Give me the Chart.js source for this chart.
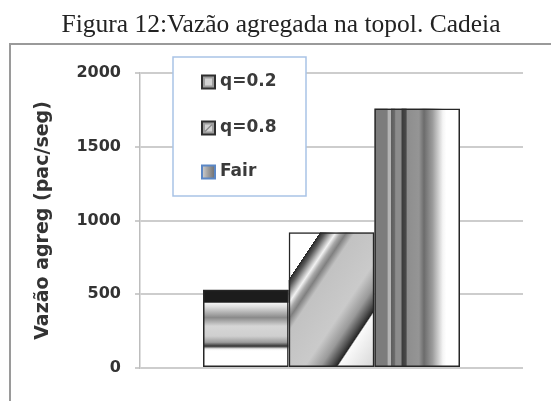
<!DOCTYPE html>
<html>
<head>
<meta charset="utf-8">
<script src="https://cdn.jsdelivr.net/npm/chart.js@4.4.1/dist/chart.umd.min.js"></script>
<style>
  html, body { margin: 0; padding: 0; background: #fff; }
  #wrap { width: 551px; height: 401px; }
</style>
</head>
<body>
<div id="wrap"><canvas id="mainChart" width="551" height="401"></canvas></div>
<script>
// ================= DATA =================
const categories = ['Cadeia'];
const seriesLabels = ['q=0.2', 'q=0.8', 'Fair'];
const q02Values = [530];
const q08Values = [920];
const fairValues = [1760];
const yTicks = [0, 500, 1000, 1500, 2000];

const chartTitle = 'Figura 12:Vazão agregada na topol. Cadeia';
const yTitle = 'Vazão agreg (pac/seg)';

// ================= FILL PATTERNS =================
// q=0.2 -> horizontal bands (top -> bottom)
const BANDS_H = [
    [0, '#1c1c1c'], [0.16, '#1c1c1c'], [0.175, '#f2f2f2'], [0.22, '#dedede'],
    [0.36, '#8a8a8a'], [0.47, '#d6d6d6'], [0.6, '#cfcfcf'], [0.68, '#9c9c9c'],
    [0.73, '#333333'], [0.765, '#eeeeee'], [0.79, '#ffffff'], [1, '#ffffff']
];
// Fair -> vertical bands (left -> right)
const BANDS_V = [
    [0, '#7c7c7c'], [0.15, '#7c7c7c'], [0.16, '#b4b4b4'], [0.19, '#b4b4b4'],
    [0.2, '#5e5e5e'], [0.235, '#6a6a6a'], [0.25, '#8c8c8c'], [0.31, '#8c8c8c'],
    [0.325, '#3c3c3c'], [0.37, '#4a4a4a'], [0.385, '#8e8e8e'], [0.52, '#959595'],
    [0.58, '#6c6c6c'], [0.68, '#9c9c9c'], [0.8, '#f5f5f5'], [0.84, '#ffffff'], [1, '#ffffff']
];
// q=0.8 -> diagonal band (0 = upper-left edge, 1 = lower-right edge)
const BANDS_D = [
    [0, '#262626'], [0.05, '#5a5a5a'], [0.11, '#b8b8b8'], [0.15, '#f2f2f2'],
    [0.2, '#a8a8a8'], [0.25, '#808080'], [0.33, '#c2c2c2'], [0.7, '#cacaca'],
    [0.85, '#9a9a9a'], [0.95, '#505050'], [1, '#262626']
];

function addStops(grad, stops) {
    stops.forEach(([t, c]) => grad.addColorStop(Math.min(1, Math.max(0, t)), c));
    return grad;
}

function barFill(ctx, i, x0, y0, w, h) {
    if (i === 0) return addStops(ctx.createLinearGradient(0, y0, 0, y0 + h), BANDS_H);
    if (i === 2) return addStops(ctx.createLinearGradient(x0, 0, x0 + w, 0), BANDS_V);

    const nx = 0.832, ny = 0.555;
    const ax = x0, ay = y0 + 0.351 * h;
    const sMin = -0.351 * h * ny;
    const sMax = w * nx + 0.649 * h * ny;
    const band = 87.3 * w / 85;
    const g = ctx.createLinearGradient(ax + sMin * nx, ay + sMin * ny, ax + sMax * nx, ay + sMax * ny);
    const t = u => (u * band - sMin) / (sMax - sMin);
    g.addColorStop(0, '#ffffff');
    g.addColorStop(t(-0.002), '#ffffff');
    BANDS_D.forEach(([u, c]) => g.addColorStop(t(u), c));
    g.addColorStop(Math.min(1, t(1.015)), '#fafafa');
    g.addColorStop(1, '#d6d6d6');
    return g;
}

// ================= PLUGINS =================
// frame lines + caption above the frame
const framePlugin = {
    id: 'frame',
    beforeDraw(chart) {
        const ctx = chart.ctx;
        ctx.save();
        ctx.fillStyle = '#fff';
        ctx.fillRect(0, 0, chart.width, chart.height);
        ctx.strokeStyle = '#9a9a9a';
        ctx.lineWidth = 2;
        ctx.beginPath();
        ctx.moveTo(10, chart.height);
        ctx.lineTo(10, 44);
        ctx.lineTo(chart.width, 44);
        ctx.stroke();

        ctx.fillStyle = '#222';
        ctx.font = '25.5px "Liberation Serif"';
        ctx.textAlign = 'center';
        ctx.textBaseline = 'alphabetic';
        ctx.fillText(chartTitle, 281, 32);
        ctx.restore();
    }
};

const patternPlugin = {
    id: 'patterns',
    beforeDatasetsDraw(chart) {
        const ctx = chart.ctx;
        ctx.save();
        chart.data.datasets.forEach((ds, i) => {
            chart.getDatasetMeta(i).data.forEach(bar => {
                const { x, y, base, width } = bar.getProps(['x', 'y', 'base', 'width'], true);
                const left = x - width / 2;
                const top = Math.min(y, base);
                const h = Math.abs(base - y);
                ctx.fillStyle = barFill(ctx, i, left, top, width, h);
                ctx.fillRect(left, top, width, h);
            });
        });
        ctx.restore();
    }
};

function drawSwatch(ctx, i, x, y, s) {
    if (i === 2) {
        const g = ctx.createLinearGradient(x, 0, x + s, 0);
        g.addColorStop(0, '#d0d0d0');
        g.addColorStop(0.45, '#a0a0a0');
        g.addColorStop(1, '#6e6e6e');
        ctx.fillStyle = g;
        ctx.fillRect(x, y, s, s);
        ctx.strokeStyle = '#5b87c5';
    } else {
        ctx.fillStyle = '#9e9e9e';
        ctx.fillRect(x, y, s, s);
        ctx.fillStyle = '#d2d2d2';
        ctx.fillRect(x + 3, y + 3, s - 6, s - 6);
        if (i === 1) {
            ctx.strokeStyle = '#8a8a8a';
            ctx.lineWidth = 1.2;
            ctx.beginPath();
            ctx.moveTo(x + 3, y + s - 3);
            ctx.lineTo(x + s - 3, y + 3);
            ctx.stroke();
        }
        ctx.strokeStyle = '#2e2e2e';
    }
    ctx.lineWidth = 2;
    ctx.strokeRect(x, y, s, s);
}

const legendPlugin = {
    id: 'boxLegend',
    afterDraw(chart) {
        const ctx = chart.ctx;
        const area = chart.chartArea;
        const bx = area.left + 33, by = area.top - 16, bw = 133, bh = 139;
        ctx.save();
        ctx.fillStyle = '#fff';
        ctx.fillRect(bx, by, bw, bh);
        ctx.strokeStyle = '#a9c3e6';
        ctx.lineWidth = 1.5;
        ctx.strokeRect(bx, by, bw, bh);

        ctx.font = 'bold 17px "DejaVu Sans"';
        ctx.textBaseline = 'middle';
        ctx.textAlign = 'left';
        const rows = [25, 71, 115];
        chart.data.datasets.forEach((ds, i) => {
            const cy = by + rows[i];
            drawSwatch(ctx, i, bx + 29, cy - 6.5, 13);
            ctx.fillStyle = '#3a3a3a';
            ctx.fillText(ds.label, bx + 47, cy);
        });
        ctx.restore();
    }
};

// ================= CHART =================
const seriesValues = [q02Values, q08Values, fairValues];

const mainChart = new Chart(document.getElementById('mainChart').getContext('2d'), {
    type: 'bar',
    data: {
        labels: categories,
        datasets: seriesLabels.map((label, i) => ({
            label,
            data: seriesValues[i],
            backgroundColor: 'rgba(0,0,0,0)',
            borderColor: '#262626',
            borderWidth: 1.5,
            borderSkipped: false,
            categoryPercentage: 0.671,
            barPercentage: 1
        }))
    },
    options: {
        responsive: false,
        animation: false,
        layout: { padding: { left: 0, right: 28, top: 73, bottom: 33 } },
        scales: {
            x: { display: false },
            y: {
                min: yTicks[0],
                max: yTicks[yTicks.length - 1],
                afterBuildTicks: scale => { scale.ticks = yTicks.map(v => ({ value: v })); },
                afterFit: scale => { scale.width = 140; },
                ticks: {
                    padding: 14,
                    color: '#333',
                    font: { family: 'DejaVu Sans', size: 16, weight: 'bold' },
                    callback: v => String(v)
                },
                grid: { color: '#cdcdcd', lineWidth: 2, tickLength: 5, drawTicks: true },
                border: { display: true, color: '#bdbdbd', width: 1.5 },
                title: {
                    display: true,
                    text: yTitle,
                    color: '#333',
                    font: { family: 'DejaVu Sans', size: 19, weight: 'bold' },
                    padding: { top: 32, bottom: 0 }
                }
            }
        },
        plugins: {
            legend: { display: false },
            tooltip: { enabled: false },
            title: { display: false }
        }
    },
    plugins: [framePlugin, patternPlugin, legendPlugin]
});
</script>
</body>
</html>
